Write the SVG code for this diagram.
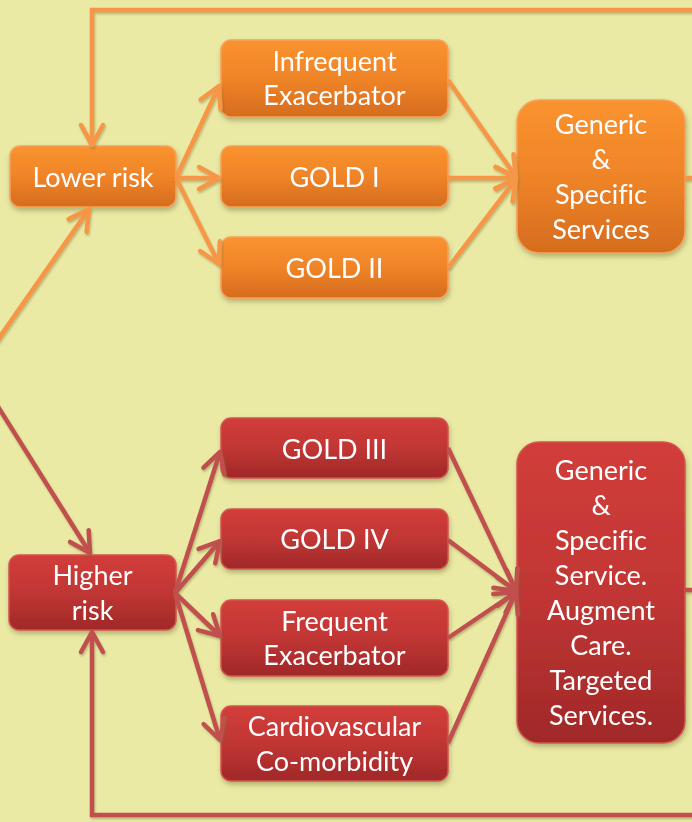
<svg xmlns="http://www.w3.org/2000/svg" width="692" height="822" viewBox="0 0 692 822">
<defs>
<linearGradient id="gO" x1="0" y1="0" x2="0" y2="1">
<stop offset="0" stop-color="#FA932F"/><stop offset="0.5" stop-color="#EF8428"/><stop offset="1" stop-color="#D56C1E"/>
</linearGradient>
<linearGradient id="gR" x1="0" y1="0" x2="0" y2="1">
<stop offset="0" stop-color="#D23D3A"/><stop offset="0.5" stop-color="#C13634"/><stop offset="1" stop-color="#A02828"/>
</linearGradient>
<filter id="sh" x="-20%" y="-20%" width="140%" height="150%">
<feDropShadow dx="1" dy="3" stdDeviation="2.5" flood-color="#6b6a30" flood-opacity="0.45"/>
</filter>
<filter id="lsh" x="-10%" y="-10%" width="120%" height="120%">
<feDropShadow dx="1" dy="2" stdDeviation="1.2" flood-color="#6b6a30" flood-opacity="0.4"/>
</filter>
<marker id="aO" viewBox="-4 -4 32 32" markerWidth="32" markerHeight="32" refX="21" refY="12" orient="auto" markerUnits="userSpaceOnUse">
<path d="M1,1 L21,12 L1,23" fill="none" stroke="#F79646" stroke-width="4.5" stroke-linecap="round" stroke-linejoin="round"/>
</marker>
<marker id="aR" viewBox="-4 -4 32 32" markerWidth="32" markerHeight="32" refX="21" refY="12" orient="auto" markerUnits="userSpaceOnUse">
<path d="M1,1 L21,12 L1,23" fill="none" stroke="#C0504D" stroke-width="4.5" stroke-linecap="round" stroke-linejoin="round"/>
</marker>
</defs>
<style>
.o rect{fill:url(#gO);stroke:#F7A15A;stroke-width:1.5}
.r rect{fill:url(#gR);stroke:#D2554F;stroke-width:1.5}
.n{filter:url(#sh)}
text{font-family:"Lato","Open Sans","Liberation Sans",sans-serif;font-size:27px;fill:#FFFFFF;text-anchor:middle;font-variant-ligatures:none}
.co path{fill:none;stroke:#F79646;stroke-width:4.5;marker-end:url(#aO)}
.cr path{fill:none;stroke:#C0504D;stroke-width:4.5;marker-end:url(#aR)}
.lines{filter:url(#lsh)}
</style>
<rect width="692" height="822" fill="#EBEAA5"/>

<g id="lower" class="n o"><rect x="10" y="146" width="166" height="61" rx="10"/><text x="93" y="187">Lower risk</text></g>
<g id="infreq" class="n o"><rect x="221" y="40" width="227" height="77" rx="10"/><text x="334.5" y="71">Infrequent</text><text x="334.5" y="105">Exacerbator</text></g>
<g id="gold1" class="n o"><rect x="221" y="146" width="227" height="61" rx="10"/><text x="334.5" y="187">GOLD I</text></g>
<g id="gold2" class="n o"><rect x="221" y="237" width="227" height="61" rx="10"/><text x="334.5" y="278">GOLD II</text></g>
<g id="genO" class="n o"><rect x="517" y="100" width="168" height="153" rx="22"/><text x="601" y="134">Generic</text><text x="601" y="169">&amp;</text><text x="601" y="204">Specific</text><text x="601" y="239">Services</text></g>

<g id="higher" class="n r"><rect x="9" y="555" width="167" height="75" rx="10"/><text x="92.5" y="585">Higher</text><text x="92.5" y="620">risk</text></g>
<g id="gold3" class="n r"><rect x="221" y="418" width="227" height="60" rx="10"/><text x="334.5" y="459">GOLD III</text></g>
<g id="gold4" class="n r"><rect x="221" y="509" width="227" height="60" rx="10"/><text x="334.5" y="549">GOLD IV</text></g>
<g id="freq" class="n r"><rect x="221" y="600" width="227" height="76" rx="10"/><text x="334.5" y="631">Frequent</text><text x="334.5" y="665">Exacerbator</text></g>
<g id="cardio" class="n r"><rect x="221" y="706" width="227" height="75" rx="10"/><text x="334.5" y="736">Cardiovascular</text><text x="334.5" y="771">Co-morbidity</text></g>
<g id="genR" class="n r"><rect x="517" y="442" width="168" height="301" rx="22"/><text x="601" y="480">Generic</text><text x="601" y="515">&amp;</text><text x="601" y="550">Specific</text><text x="601" y="585">Service.</text><text x="601" y="620">Augment</text><text x="601" y="655">Care.</text><text x="601" y="690">Targeted</text><text x="601" y="725">Services.</text></g>

<g id="connectors" class="lines">
<g class="co">
<path d="M176,178 L219,86"/>
<path d="M176,178 L219,178"/>
<path d="M176,178 L219,264"/>
<path d="M448,80 L516,177"/>
<path d="M448,178 L516,178"/>
<path d="M448,268 L516,179"/>
<path d="M685,178 H702 V10 H92 V145"/>
<path d="M-10,351 L89,209"/>
</g>
<g class="cr">
<path d="M-10,394 L90,553"/>
<path d="M175,593 L220,452"/>
<path d="M175,593 L220,541"/>
<path d="M175,593 L220,636"/>
<path d="M175,593 L220,740"/>
<path d="M448,448 L516,591"/>
<path d="M448,540 L516,591"/>
<path d="M448,638 L516,592"/>
<path d="M448,743 L516,592"/>
<path d="M685,590 H702 V815 H92 V632"/>
</g>
</g>
</svg>
